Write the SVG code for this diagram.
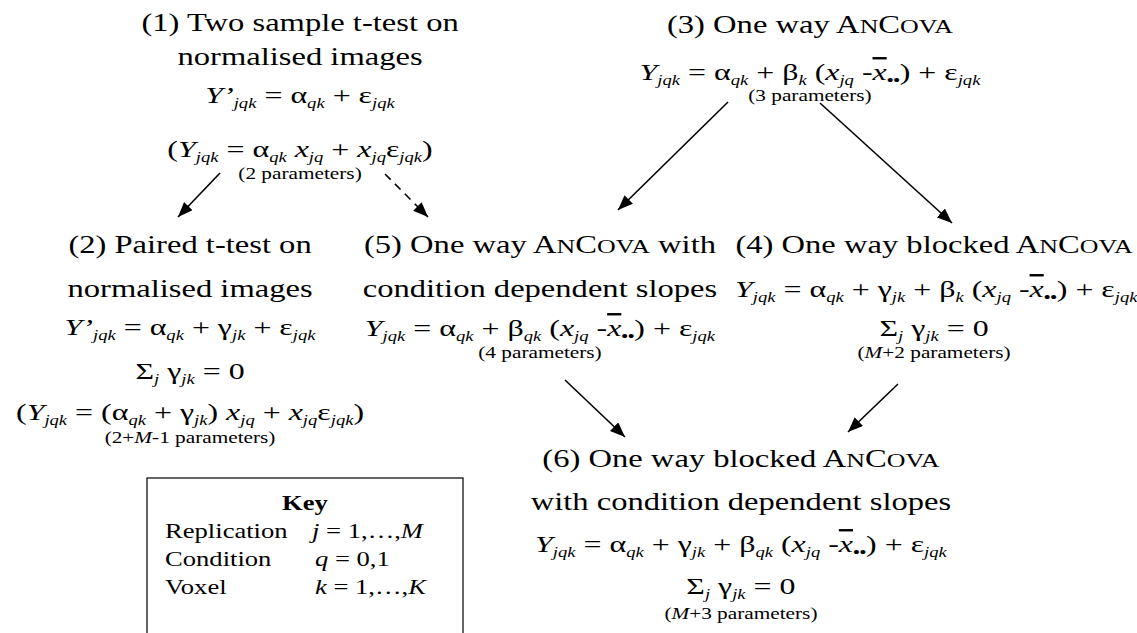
<svg xmlns="http://www.w3.org/2000/svg" width="1137" height="633" viewBox="0 0 1137 633">
<defs>
<marker id="ah" markerUnits="userSpaceOnUse" markerWidth="16" markerHeight="12" refX="15" refY="6" orient="auto">
<path d="M0,0 L15,6 L0,12 Z" fill="#000"/>
</marker>
<style>
text{font-family:"Liberation Serif","Times New Roman",serif;fill:#000;}
.t{font-size:24.5px;text-anchor:middle;}
.e{font-size:24px;text-anchor:middle;}
.p{font-size:16px;text-anchor:middle;}
.i{font-style:italic;}
.sb{font-size:14px;font-style:italic;}
.sc{font-size:19.5px;}
.k{font-size:20px;}
.ln{stroke:#000;stroke-width:1.6;fill:none;marker-end:url(#ah);}
.ds{stroke-dasharray:8,6;}
</style>
</defs>
<rect width="1137" height="633" fill="#fff"/>
<g id="connectors">
<line class="ln" x1="220" y1="173" x2="178" y2="217"/>
<line class="ln ds" x1="385" y1="174" x2="428" y2="217"/>
<line class="ln" x1="728" y1="102" x2="618" y2="210"/>
<line class="ln" x1="820" y1="103" x2="952" y2="223"/>
<line class="ln" x1="565" y1="380" x2="625" y2="437"/>
<line class="ln" x1="898" y1="384" x2="848" y2="432"/>
</g>
<rect id="key-box" x="147" y="478" width="316" height="170" fill="none" stroke="#000" stroke-width="1.2"/>
<g transform="scale(1.33,1)">
<g id="n1">
<text class="t" x="225.6" y="31">(1) Two sample t-test on</text>
<text class="t" x="225.6" y="65">normalised images</text>
<text class="e" x="225.6" y="103"><tspan class="i">Y’</tspan><tspan class="sb" dy="5">jqk</tspan><tspan dy="-5"> = α</tspan><tspan class="sb" dy="5">qk</tspan><tspan dy="-5"> + ε</tspan><tspan class="sb" dy="5">jqk</tspan></text>
<text class="e" x="225.6" y="157">(<tspan class="i">Y</tspan><tspan class="sb" dy="5">jqk</tspan><tspan dy="-5"> = α</tspan><tspan class="sb" dy="5">qk</tspan><tspan dy="-5"> </tspan><tspan class="i">x</tspan><tspan class="sb" dy="5">jq</tspan><tspan dy="-5"> + </tspan><tspan class="i">x</tspan><tspan class="sb" dy="5">jq</tspan><tspan dy="-5">ε</tspan><tspan class="sb" dy="5">jqk</tspan><tspan dy="-5">)</tspan></text>
<text class="p" x="225.6" y="179">(2 parameters)</text>
</g>
<g id="n3">
<text class="t" x="609" y="33">(3) One way A<tspan class="sc">N</tspan>C<tspan class="sc">OVA</tspan></text>
<text class="e" x="609" y="80"><tspan class="i">Y</tspan><tspan class="sb" dy="5">jqk</tspan><tspan dy="-5"> = α</tspan><tspan class="sb" dy="5">qk</tspan><tspan dy="-5"> + β</tspan><tspan class="sb" dy="5">k</tspan><tspan dy="-5"> (</tspan><tspan class="i">x</tspan><tspan class="sb" dy="5">jq</tspan><tspan dy="-5"> -</tspan><tspan class="i" text-decoration="overline">x</tspan><tspan class="sb" dy="5" font-weight="bold">••</tspan><tspan dy="-5">) + ε</tspan><tspan class="sb" dy="5">jqk</tspan></text>
<text class="p" x="609" y="101">(3 parameters)</text>
</g>
<g id="n2">
<text class="t" x="142.9" y="253">(2) Paired t-test on</text>
<text class="t" x="142.9" y="297">normalised images</text>
<text class="e" x="142.9" y="335"><tspan class="i">Y’</tspan><tspan class="sb" dy="5">jqk</tspan><tspan dy="-5"> = α</tspan><tspan class="sb" dy="5">qk</tspan><tspan dy="-5"> + γ</tspan><tspan class="sb" dy="5">jk</tspan><tspan dy="-5"> + ε</tspan><tspan class="sb" dy="5">jqk</tspan></text>
<text class="e" x="142.9" y="379">Σ<tspan class="sb" dy="5">j</tspan><tspan dy="-5"> γ</tspan><tspan class="sb" dy="5">jk</tspan><tspan dy="-5"> = 0</tspan></text>
<text class="e" x="142.9" y="420">(<tspan class="i">Y</tspan><tspan class="sb" dy="5">jqk</tspan><tspan dy="-5"> = (α</tspan><tspan class="sb" dy="5">qk</tspan><tspan dy="-5"> + γ</tspan><tspan class="sb" dy="5">jk</tspan><tspan dy="-5">) </tspan><tspan class="i">x</tspan><tspan class="sb" dy="5">jq</tspan><tspan dy="-5"> + </tspan><tspan class="i">x</tspan><tspan class="sb" dy="5">jq</tspan><tspan dy="-5">ε</tspan><tspan class="sb" dy="5">jqk</tspan><tspan dy="-5">)</tspan></text>
<text class="p" x="142.9" y="443">(2+<tspan class="i">M</tspan>-1 parameters)</text>
</g>
<g id="n5">
<text class="t" x="406" y="253">(5) One way A<tspan class="sc">N</tspan>C<tspan class="sc">OVA</tspan> with</text>
<text class="t" x="406" y="297">condition dependent slopes</text>
<text class="e" x="406" y="336"><tspan class="i">Y</tspan><tspan class="sb" dy="5">jqk</tspan><tspan dy="-5"> = α</tspan><tspan class="sb" dy="5">qk</tspan><tspan dy="-5"> + β</tspan><tspan class="sb" dy="5">qk</tspan><tspan dy="-5"> (</tspan><tspan class="i">x</tspan><tspan class="sb" dy="5">jq</tspan><tspan dy="-5"> -</tspan><tspan class="i" text-decoration="overline">x</tspan><tspan class="sb" dy="5" font-weight="bold">••</tspan><tspan dy="-5">) + ε</tspan><tspan class="sb" dy="5">jqk</tspan></text>
<text class="p" x="406" y="358">(4 parameters)</text>
</g>
<g id="n4">
<text class="t" x="702.3" y="253">(4) One way blocked A<tspan class="sc">N</tspan>C<tspan class="sc">OVA</tspan></text>
<text class="e" x="704" y="297"><tspan class="i">Y</tspan><tspan class="sb" dy="5">jqk</tspan><tspan dy="-5"> = α</tspan><tspan class="sb" dy="5">qk</tspan><tspan dy="-5"> + γ</tspan><tspan class="sb" dy="5">jk</tspan><tspan dy="-5"> + β</tspan><tspan class="sb" dy="5">k</tspan><tspan dy="-5"> (</tspan><tspan class="i">x</tspan><tspan class="sb" dy="5">jq</tspan><tspan dy="-5"> -</tspan><tspan class="i" text-decoration="overline">x</tspan><tspan class="sb" dy="5" font-weight="bold">••</tspan><tspan dy="-5">) + ε</tspan><tspan class="sb" dy="5">jqk</tspan></text>
<text class="e" x="702.3" y="336">Σ<tspan class="sb" dy="5">j</tspan><tspan dy="-5"> γ</tspan><tspan class="sb" dy="5">jk</tspan><tspan dy="-5"> = 0</tspan></text>
<text class="p" x="702.3" y="358">(<tspan class="i">M</tspan>+2 parameters)</text>
</g>
<g id="n6">
<text class="t" x="557.1" y="467">(6) One way blocked A<tspan class="sc">N</tspan>C<tspan class="sc">OVA</tspan></text>
<text class="t" x="557.1" y="510">with condition dependent slopes</text>
<text class="e" x="557.1" y="552"><tspan class="i">Y</tspan><tspan class="sb" dy="5">jqk</tspan><tspan dy="-5"> = α</tspan><tspan class="sb" dy="5">qk</tspan><tspan dy="-5"> + γ</tspan><tspan class="sb" dy="5">jk</tspan><tspan dy="-5"> + β</tspan><tspan class="sb" dy="5">qk</tspan><tspan dy="-5"> (</tspan><tspan class="i">x</tspan><tspan class="sb" dy="5">jq</tspan><tspan dy="-5"> -</tspan><tspan class="i" text-decoration="overline">x</tspan><tspan class="sb" dy="5" font-weight="bold">••</tspan><tspan dy="-5">) + ε</tspan><tspan class="sb" dy="5">jqk</tspan></text>
<text class="e" x="557.1" y="594">Σ<tspan class="sb" dy="5">j</tspan><tspan dy="-5"> γ</tspan><tspan class="sb" dy="5">jk</tspan><tspan dy="-5"> = 0</tspan></text>
<text class="p" x="557.1" y="619">(<tspan class="i">M</tspan>+3 parameters)</text>
</g>
<g id="key">
<text class="k" x="229.3" y="510" text-anchor="middle" font-weight="bold">Key</text>
<text class="k" x="124.1" y="538">Replication</text>
<text class="k" x="234.6" y="538"><tspan class="i">j</tspan> = 1,…,<tspan class="i">M</tspan></text>
<text class="k" x="124.1" y="566">Condition</text>
<text class="k" x="236.8" y="566"><tspan class="i">q</tspan> = 0,1</text>
<text class="k" x="124.1" y="594">Voxel</text>
<text class="k" x="236.8" y="594"><tspan class="i">k</tspan> = 1,…,<tspan class="i">K</tspan></text>
</g>
</g>
</svg>
